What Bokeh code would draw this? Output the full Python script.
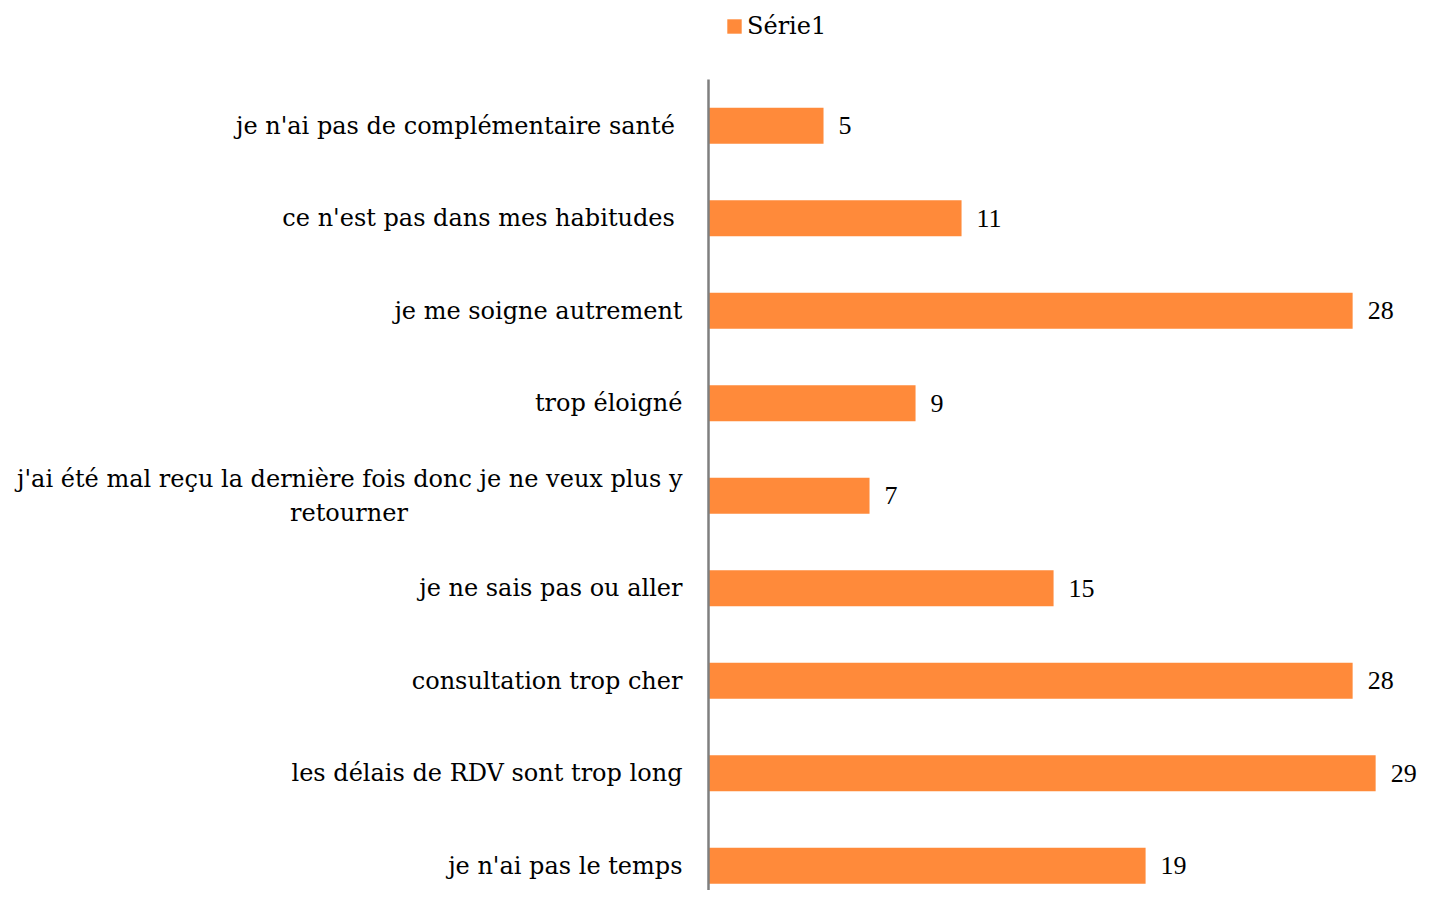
from bokeh.plotting import figure
from bokeh.models import ColumnDataSource, Range1d, FixedTicker, LabelSet, Legend, LegendItem
from bokeh.embed import file_html
from bokeh.resources import INLINE

NB = "\u00a0"
categories = [
    "je n'ai pas de complémentaire santé ",
    "ce n'est pas dans mes habitudes ",
    "je me soigne autrement",
    "trop éloigné",
    "j'ai été mal reçu la dernière fois donc je ne veux plus y\nretourner" + NB * 36,
    "je ne sais pas ou aller",
    "consultation trop cher",
    "les délais de RDV sont trop long",
    "je n'ai pas le temps",
]
values = [5, 11, 28, 9, 7, 15, 28, 29, 19]
series_name = "Série1"

FONT = "DejaVu Serif"
BAR = "#FF8A3A"

pos = list(range(len(categories)))
src = ColumnDataSource(dict(y=pos, v=values, lab=[str(v) for v in values]))

Y_BOTTOM = 8.268
Y_TOP = -1.354

p = figure(width=1420, height=890, output_backend="svg", toolbar_location=None,
           x_range=Range1d(0, 30.95), y_range=Range1d(Y_BOTTOM, Y_TOP),
           min_border_left=708, min_border_top=0, min_border_bottom=0, min_border_right=0)
p.outline_line_color = None
p.grid.visible = False
p.xaxis.visible = False

r = p.hbar(y="y", right="v", left=0, height=0.39, source=src, color=BAR, line_color=None)

ya = p.yaxis[0]
ya.bounds = (-0.5, Y_BOTTOM)
ya.ticker = FixedTicker(ticks=pos)
ya.major_label_overrides = {i: c for i, c in zip(pos, categories)}
ya.axis_line_color = "#7f7f7f"
ya.axis_line_width = 2.5
ya.major_tick_line_color = None
ya.minor_tick_line_color = None
ya.major_label_text_font = FONT
ya.major_label_text_font_size = "24px"
ya.major_label_text_color = "#000000"
ya.major_label_standoff = 20

labels = LabelSet(x="v", y="y", text="lab", source=src, x_offset=15,
                  text_baseline="middle", text_font=FONT, text_font_size="26px",
                  text_color="#000000")
p.add_layout(labels)

legend = Legend(items=[LegendItem(label=series_name, renderers=[r])],
                location=(17, 850), orientation="horizontal",
                glyph_width=18, glyph_height=18, label_standoff=4,
                label_text_font=FONT, label_text_font_size="24px",
                label_text_color="#000000",
                padding=0, margin=0, border_line_color=None,
                background_fill_alpha=0)
p.add_layout(legend, "center")

open("out.html", "w").write(file_html(p, INLINE))
